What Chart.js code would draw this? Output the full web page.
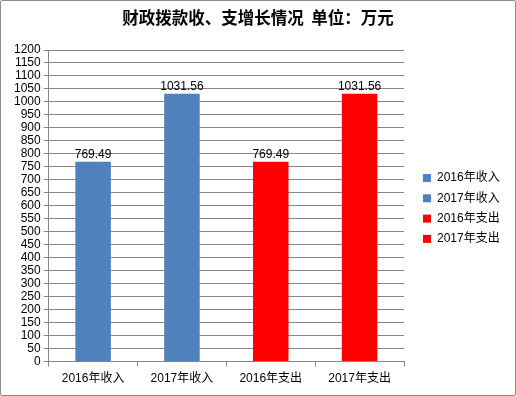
<!DOCTYPE html>
<html>
<head>
<meta charset="utf-8">
<script src="https://cdn.jsdelivr.net/npm/chart.js@4"></script>
<style>
  html, body { margin: 0; padding: 0; background: #fff; }
  #wrap { position: relative; width: 516px; height: 396px; box-sizing: border-box; border: 1px solid #8c8c8c; border-radius: 2px; }
  canvas { display: block; }
</style>
</head>
<body>
<div id="wrap"><canvas id="c" width="514" height="394"></canvas></div>
<script>
const categorias = ['2016年收入', '2017年收入', '2016年支出', '2017年支出'];
const valores = [769.49, 1031.56, 769.49, 1031.56];
const colores = ['#4F81BD', '#4F81BD', '#FF0000', '#FF0000'];
const titulo = '财政拨款收、支增长情况  单位：万元';

const fuente = '"Liberation Sans", "Noto Sans CJK SC", sans-serif';

// etiquetas de valor encima de cada barra
const etiquetas = {
  id: 'etiquetas',
  afterDatasetsDraw(chart) {
    const ctx = chart.ctx, meta = chart.getDatasetMeta(0);
    ctx.save();
    ctx.font = '12px ' + fuente;
    ctx.fillStyle = '#000';
    ctx.textAlign = 'center';
    ctx.textBaseline = 'bottom';
    meta.data.forEach((bar, i) => ctx.fillText(valores[i].toFixed(2), bar.x, bar.y - 1));
    ctx.restore();
  }
};

// titulo centrado en todo el lienzo y leyenda a la derecha
const extras = {
  id: 'extras',
  afterDraw(chart) {
    const ctx = chart.ctx;
    ctx.save();
    ctx.font = 'bold 16.5px "Noto Sans CJK SC", sans-serif';
    ctx.fillStyle = '#000';
    ctx.textAlign = 'center';
    ctx.textBaseline = 'middle';
    ctx.fillText(titulo, chart.width / 2, 17);

    const x0 = chart.chartArea.right + 19, y0 = 177, paso = 20.3;
    ctx.font = '12px ' + fuente;
    ctx.textAlign = 'left';
    categorias.forEach((c, i) => {
      const y = y0 + i * paso;
      ctx.fillStyle = colores[i];
      ctx.fillRect(x0, y - 4, 8, 8);
      ctx.fillStyle = '#000';
      ctx.fillText(c, x0 + 14, y);
    });
    ctx.restore();
  }
};

new Chart(document.getElementById('c'), {
  type: 'bar',
  data: {
    labels: categorias,
    datasets: [{ data: valores, backgroundColor: colores, categoryPercentage: 0.8, barPercentage: 0.5 }]
  },
  options: {
    responsive: false,
    animation: false,
    layout: { padding: { left: 10, right: 111, top: 49, bottom: 4 } },
    plugins: {
      title: { display: false },
      legend: { display: false },
      tooltip: { enabled: false }
    },
    scales: {
      x: {
        grid: { offset: true, drawOnChartArea: false, color: '#868686', tickLength: 5 },
        border: { color: '#868686' },
        ticks: { color: '#000', font: { family: fuente, size: 12 }, padding: 5, maxRotation: 0 }
      },
      y: {
        min: 0, max: 1200,
        grid: { color: '#868686', tickLength: 5 },
        border: { color: '#868686' },
        ticks: { stepSize: 50, autoSkip: false, color: '#000', font: { family: fuente, size: 12 }, padding: 3, callback: v => String(v) }
      }
    }
  },
  plugins: [etiquetas, extras]
});
</script>
</body>
</html>
